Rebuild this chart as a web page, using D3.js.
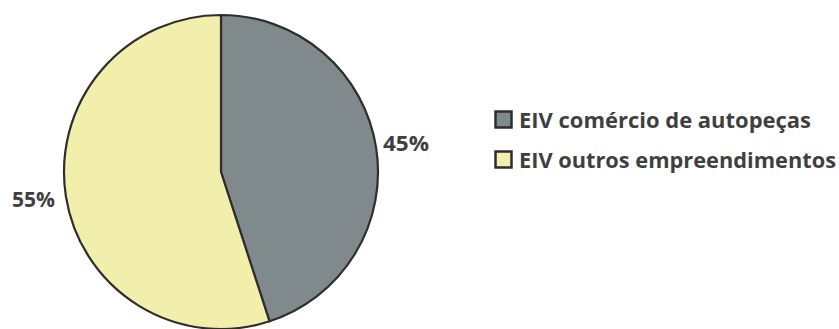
<!DOCTYPE html>
<html><head><meta charset="utf-8">
<script src="https://cdn.jsdelivr.net/npm/d3@7"></script>
<style>body{margin:0;background:#fff}svg{display:block}</style>
</head><body>
<svg id="c" width="839" height="329"></svg>
<script>
const categories = ["EIV comércio de autopeças", "EIV outros empreendimentos"];
const values = [45, 55];
const labels = ["45%", "55%"];
const colors = ["#808a8c", "#f2eeab"];

const svg = d3.select("#c");
const cx = 221, cy = 172, r = 157;
const pie = d3.pie().sort(null).value(d => d)(values);
const arc = d3.arc().innerRadius(0).outerRadius(r);
const g = svg.append("g").attr("transform", `translate(${cx},${cy})`);
g.selectAll("path").data(pie).join("path")
  .attr("d", arc)
  .attr("fill", (d, i) => colors[i])
  .attr("stroke", "#2e2e2e")
  .attr("stroke-width", 2.2)
  .attr("stroke-linejoin", "round");

const font = "'Open Sans', Lato, sans-serif";
const labelPos = [[383, 151, 46], [12, 207, 43]];
svg.selectAll("text.pl").data(labels).join("text")
  .attr("class", "pl")
  .attr("x", (d, i) => labelPos[i][0])
  .attr("y", (d, i) => labelPos[i][1])
  .attr("font-family", font).attr("font-weight", "bold")
  .attr("font-size", 21).attr("fill", "#3f3f3f")
  .attr("textLength", (d, i) => labelPos[i][2])
  .attr("lengthAdjust", "spacingAndGlyphs")
  .text(d => d);

const leg = svg.append("g");
const rows = [128, 168];
const legW = [292, 317];
categories.forEach((c, i) => {
  leg.append("rect").attr("x", 495.5).attr("y", rows[i] - 16.5).attr("width", 16).attr("height", 16)
    .attr("fill", colors[i]).attr("stroke", "#2e2e2e").attr("stroke-width", 2.5);
  leg.append("text").attr("x", 519).attr("y", rows[i])
    .attr("font-family", font).attr("font-weight", "bold")
    .attr("font-size", 21.5).attr("fill", "#3f3f3f")
    .attr("textLength", legW[i]).attr("lengthAdjust", "spacingAndGlyphs")
    .text(c);
});
</script>
</body></html>
